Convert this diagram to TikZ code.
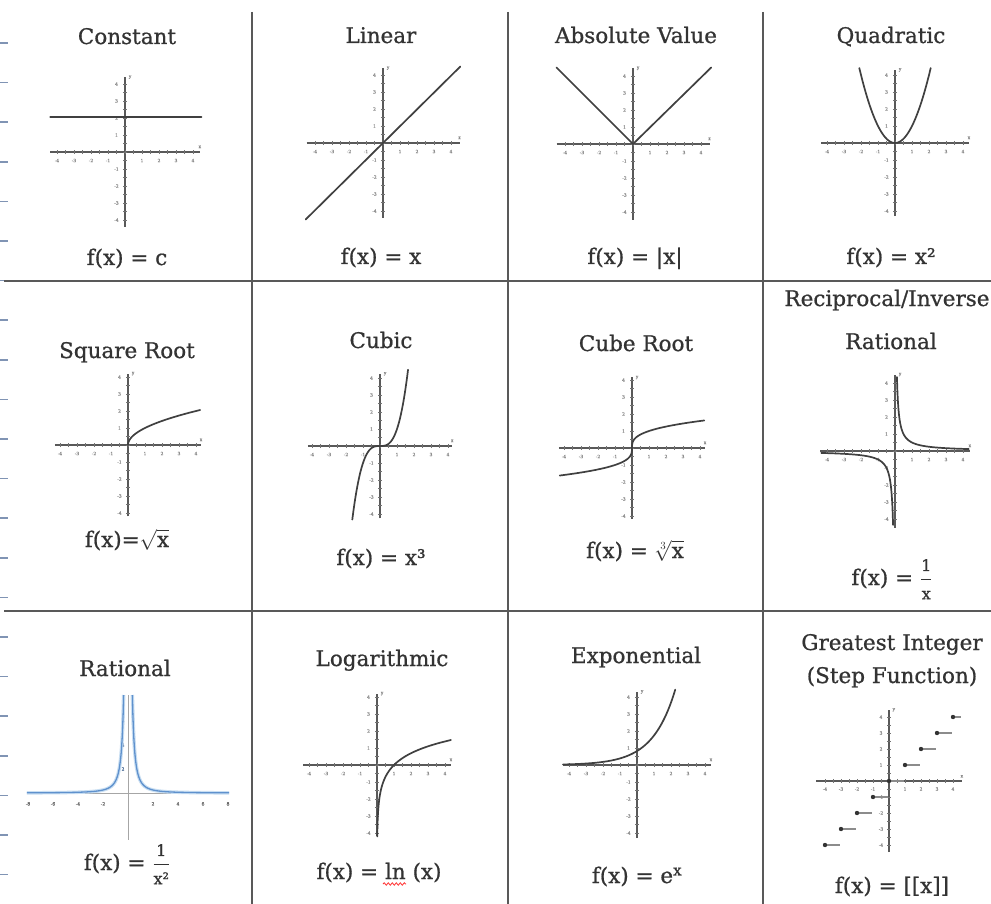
\documentclass[tikz,border=0pt]{standalone}
\usepackage{amsmath}
\usepackage{fontspec}
\setmainfont[FakeBold=0.8]{DejaVu Serif}
\usetikzlibrary{decorations.pathmorphing}

\definecolor{marginblue}{RGB}{128,148,180}
\definecolor{plotblue}{RGB}{95,145,205}
\definecolor{glowblue}{RGB}{200,222,242}

% axes of one small graph, in the units of the scope
\newcommand\fnaxes[3]{%
  \draw[axis] (-#2,0) -- (#2,0);
  \draw[axis] (0,-#3) -- (0,#3);
  \foreach \t in {-4,-3.5,...,4}{
    \draw[tick] (\t,-0.1) -- (\t,0.1);
    \draw[tick] (-0.1,\t) -- (0.1,\t);}
  \foreach \t in {-4,-3,-2,-1,1,2,3,4}{
    \node[ticklab] (#1x\t) at (\t,-0.5) {\t};
    \node[ticklab] (#1y\t) at (-0.5,\t) {\t};}
  \node[ticklab] (#1x) at (#2,0.3) {x};
  \node[ticklab] (#1y) at (0.3,#3) {y};
}

\begin{document}
\begin{tikzpicture}[x=1pt,y=-1pt,
  grid line/.style={line width=2.4pt,draw=black!65},
  margin tick/.style={line width=1.6pt,draw=marginblue},
  axis/.style={line width=1.2pt,draw=black!65},
  tick/.style={line width=0.6pt,draw=black!55},
  ticklab/.style={font=\fontsize{4.5}{5}\selectfont,text=black!45,inner sep=0pt},
  curve/.style={line width=1.7pt,draw=black!75,line cap=round},
  title/.style={font=\fontsize{21.5}{24}\selectfont,text=black!80,anchor=base,inner sep=0pt}]
  \fill[white] (0,0) rectangle (991,904);
  \useasboundingbox (0,0) rectangle (991,904);
  % ---------- page margin and table rules
  \foreach \k in {0,...,21}
    \draw[margin tick] (0,{43+39.6*\k}) -- (8,{43+39.6*\k});
  \foreach \xx in {252,508,763}
    \draw[grid line] (\xx,12) -- (\xx,904);
  \foreach \yy in {281,611}
    \draw[grid line] (4,\yy) -- (991,\yy);

  % ---------- row 1
  \node[title] (tconst) at (127,44) {Constant};
  \node[title] (tlin) at (381,43) {Linear};
  \node[title] (tabs) at (636,43) {Absolute Value};
  \node[title] (tquad) at (891,43) {Quadratic};
  \begin{scope}[shift={(125,152)},x=17pt,y=17pt]
    \fnaxes{c}{4.4}{4.4}
    \draw[curve] (-4.4,2.05) -- (4.5,2.05);
  \end{scope}
  \begin{scope}[shift={(383,143)},x=17pt,y=17pt]
    \fnaxes{l}{4.5}{4.4}
    \draw[curve] (-4.55,-4.5) -- (4.55,4.5);
  \end{scope}
  \begin{scope}[shift={(633,144)},x=17pt,y=17pt]
    \fnaxes{a}{4.5}{4.45}
    \draw[curve] (-4.5,4.5) -- (0,0) -- (4.6,4.5);
  \end{scope}
  \begin{scope}[shift={(895,143)},x=17pt,y=17pt]
    \fnaxes{q}{4.35}{4.3}
    \draw[curve] plot[domain=-2.1:2.1,samples=50,smooth] (\x,{\x*\x});
  \end{scope}
  \node[title] (fconst) at (127,265) {f(x) = c};
  \node[title] (flin) at (381,264) {f(x) = x};
  \node[title] (fabs) at (635,264) {f(x) = |x|};
  \node[title] (fquad) at (891,264) {f(x) = x²};

  % ---------- row 2
  \node[title] (tsqrt) at (127,358) {Square Root};
  \node[title] (tcub) at (381,348) {Cubic};
  \node[title] (tcbrt) at (636,351) {Cube Root};
  \node[title] (trecip) at (887,306) {Reciprocal/Inverse};
  \node[title] (trecip2) at (891,349) {Rational};
  \begin{scope}[shift={(128,445)},x=17pt,y=17pt]
    \fnaxes{s}{4.3}{4.2}
    \draw[curve] plot[domain=0:2.06,samples=40,smooth] ({\x*\x},\x);
  \end{scope}
  \begin{scope}[shift={(380,446)},x=17pt,y=17pt]
    \fnaxes{k}{4.25}{4.25}
    \draw[curve] plot[domain=-1.63:1.65,samples=50,smooth] (\x,{\x*\x*\x});
  \end{scope}
  \begin{scope}[shift={(632,448)},x=17pt,y=17pt]
    \fnaxes{r}{4.3}{4.15}
    \draw[curve] plot[domain=-1.62:1.62,samples=50,smooth] ({\x*\x*\x},\x);
  \end{scope}
  \begin{scope}[shift={(895,451)},x=17pt,y=17pt]
    \fnaxes{i}{4.4}{4.5}
    \draw[curve] plot[domain=-1.47:2.16,samples=50,smooth] ({0.5*exp(\x)},{exp(-\x)});
    \draw[curve] plot[domain=-1.47:2.16,samples=50,smooth] ({-0.5*exp(\x)},{-exp(-\x)});
  \end{scope}
  \node[title] (fsqrt) at (127,547) {f(x)=$\sqrt{\text{x}}$};
  \node[title] (fcub) at (381,565) {f(x) = x³};
  \node[title] (fcbrt) at (635,558) {f(x) = $\sqrt[3]{\text{x}}$};
  \node[title] (frecip) at (892,585) {f(x) = $\dfrac{\text{\fontsize{16}{17}\selectfont 1}}{\text{\fontsize{16}{17}\selectfont x}}$};

  % ---------- row 3
  \node[title] (trat) at (125,676) {Rational};
  \node[title] (tlog) at (382,666) {Logarithmic};
  \node[title] (texp) at (636,663) {Exponential};
  \node[title] (tgint) at (892,650) {Greatest Integer};
  \node[title] (tgint2) at (892,683) {(Step Function)};
  % blue plot of 1/x^2
  \begin{scope}[shift={(128,793)},x=12.5pt,y=12pt]
    \draw[line width=0.8pt,black!35] (-8.1,0) -- (8.05,0);
    \draw[line width=0.8pt,black!35] (0,-3.9) -- (0,8.2);
    \foreach \t in {-8,-6,-4,-2,2,4,6,8}
      \node[ticklab,text=black!60] (bx\t) at (\t,-0.9) {\t};
    \foreach \t in {2,4,6}
      \node[ticklab,text=plotblue!70!black] (by\t) at (-0.4,\t) {\t};
    \foreach \s in {1,-1}{
      \draw[line width=3.5pt,glowblue] plot[domain=-1.05:2.09,samples=50,smooth] ({\s*exp(\x)},{exp(-2*\x)});
      \draw[line width=1.3pt,plotblue] plot[domain=-1.05:2.09,samples=50,smooth] ({\s*exp(\x)},{exp(-2*\x)});}
  \end{scope}
  \begin{scope}[shift={(377,765)},x=17pt,y=17pt]
    \fnaxes{g}{4.35}{4.2}
    \draw[curve] plot[domain=-4.2:1.47,samples=60,smooth] ({exp(\x)},\x);
  \end{scope}
  \begin{scope}[shift={(637,765)},x=17pt,y=17pt]
    \fnaxes{e}{4.35}{4.3}
    \draw[curve] plot[domain=-4.35:2.25,samples=50,smooth] (\x,{0.82*exp(0.75*\x)});
  \end{scope}
  \begin{scope}[shift={(889,781)},x=16pt,y=16pt]
    \fnaxes{t}{4.55}{4.45}
    \foreach \k in {-4,...,3}
      \draw[line width=1.3pt,black!45] (\k,\k) -- (\k+0.95,\k);
    \draw[line width=1.3pt,black!45] (4,4) -- (4.5,4);
    \foreach \k in {-4,...,4}
      \fill[black!80] (\k,\k) circle (2.2pt);
  \end{scope}
  \node[title] (frat) at (127,870) {f(x) = $\dfrac{\text{\fontsize{16}{17}\selectfont 1}}{\text{\fontsize{16}{17}\selectfont x²}}$};
  \node[title] (flog) at (379,879) {f(x) = ln (x)};
  \draw[red!80,line width=0.8pt,decorate,decoration={snake,amplitude=1.2pt,segment length=4pt}]
    (383,884) -- (406,884);
  \node[title] (fexp) at (637,883) {f(x) = e\textsuperscript{x}};
  \node[title] (fgint) at (892,893) {f(x) = [[x]]};
\end{tikzpicture}
\end{document}
